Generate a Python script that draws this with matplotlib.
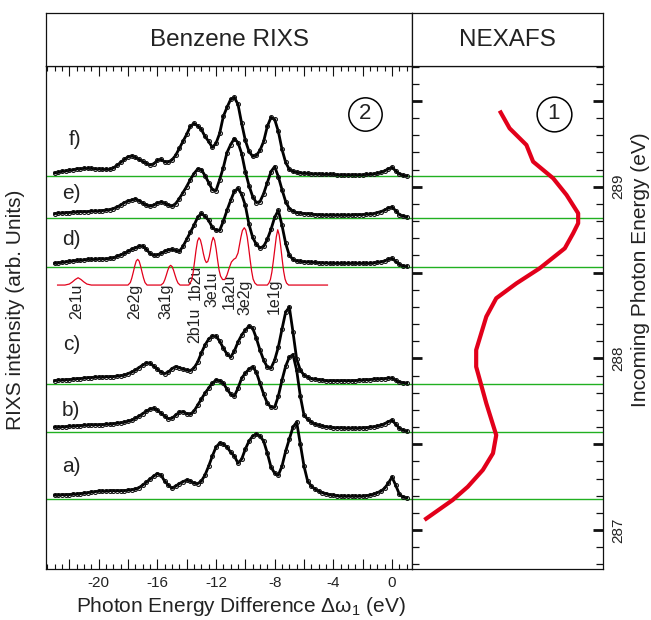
import numpy as np
import matplotlib
matplotlib.use("Agg")
import matplotlib.pyplot as plt
from matplotlib.ticker import MultipleLocator, FuncFormatter

plt.rcParams['font.family'] = ['Liberation Sans', 'DejaVu Sans']
plt.rcParams['mathtext.fontset'] = 'custom'
plt.rcParams['mathtext.rm'] = 'Liberation Sans'
plt.rcParams['mathtext.it'] = 'Liberation Sans'
plt.rcParams['axes.unicode_minus'] = False

# ---------------- data ----------------
# energy-loss grid (eV), 0.25 eV steps from -23 to +1
loss = np.arange(-23.0, 1.001, 0.25)

spec_f = [3.5, 4, 5, 5.5,  6, 6.5, 7.5, 7.5,  8, 8, 8, 7.5,  7.5, 7, 7, 7,
          8.5, 11, 14, 17,  19.5, 20.5, 19, 17,  15, 13, 11.5, 12.5,  16, 17, 14.5, 14.5,
          16.5, 21, 28, 35,  42, 50, 53, 50.5,  47, 40, 35, 29,  33, 43, 60, 69,
          77, 79, 72, 53,  36, 25, 20, 21,  26, 35, 50, 59,  57, 45, 27, 14,
          7, 5, 4, 3.5,  3, 3, 2.5, 2.5,  2.5, 2, 2, 2,  2, 1.5, 1.5, 1.5,
          1.5, 1.5, 1.5, 1.5,  1.5, 2, 2, 2.5,  3, 4, 5.5, 7.5,  9, 5.5, 2.5, 1,  0.5]
spec_e = [4, 4.5, 4.5, 5,  5, 5.5, 5.5, 6,  6, 6, 6.5, 6.5,  6.5, 7, 7.5, 8,
          9, 10.5, 12.5, 15,  16.5, 17.5, 18.5, 17,  14.5, 12.5, 11.5, 12.5,  14.5, 15.5, 14.5, 12.5,
          11.5, 14, 19, 25,  31, 38, 44, 48.5,  48, 42, 35, 28,  27, 38, 50, 65,
          73, 79, 75, 64,  46, 32, 21, 15,  16, 24, 35, 46,  51, 41, 28, 16,
          9, 6.5, 5, 4.5,  4, 4, 3.5, 3,  3, 2.5, 2.5, 2.5,  2.5, 2.5, 2.5, 2.5,
          2.5, 2.5, 3, 3,  3, 3.5, 3.5, 4,  5, 6, 7.5, 9.5,  10.5, 7, 3, 1.5,  0.7]
spec_d = [4, 4.5, 5, 5.5,  6, 6.5, 7, 7,  7.5, 8, 8, 8,  8.5, 8.5, 8.5, 9,
          9.5, 11, 12.5, 14,  16, 18, 19.5, 21,  21.5, 18, 14, 12,  12.5, 14, 16, 17.5,
          18, 17, 16, 21,  28, 35, 42, 50,  54, 51, 47, 40,  37, 37, 46, 57,
          67, 76, 79, 73,  62, 43, 30, 23,  19.5, 21, 28, 38,  50, 57, 42, 24,
          12, 8, 6.5, 6,  5.5, 5.5, 5, 5,  4.5, 4.5, 4.5, 4,  4, 4, 4, 4,
          4, 4, 4, 4,  4, 4, 4, 4.5,  5, 5.5, 6.5, 8,  9, 6, 3, 1.5,  1]
spec_c = [3.5, 4, 4, 4.5,  4.5, 5, 5.5, 5.5,  6, 6.5, 6.5, 7,  7, 7, 7.5, 7.5,
          7.5, 8, 8.5, 9,  10.5, 12, 14, 16.5,  19, 21, 21, 18,  15, 12, 10.5, 12,
          15.5, 17.5, 16.5, 15,  14, 13.5, 16, 22,  31, 39, 45, 48,  48, 43, 36, 30,
          27, 33, 42, 49,  54, 58, 56, 46,  34, 24, 17, 16,  24, 37, 55, 72,
          77, 52, 25, 14,  9, 7, 5.5, 5,  4.5, 4, 3.5, 3.5,  3.5, 3.5, 3.5, 3.5,
          3.5, 3.5, 3.5, 4,  4, 4.5, 4.5, 5,  5, 5.5, 5.5, 6,  6, 4, 2, 1.5,  1]
spec_b = [5, 5, 5.5, 5.5,  6, 6, 6.5, 6.5,  7, 7, 7.5, 7.5,  7.5, 7.5, 8, 8,
          8.5, 9, 9.5, 10,  11, 12, 14, 16,  18.5, 21, 23, 24,  22, 19, 16, 13.5,
          14, 17, 20, 20.5,  18.5, 18, 21, 27,  33, 39, 44, 49,  52, 51.5, 49, 43,
          38, 36, 44, 54,  59, 63, 65.5, 60,  49, 38, 29, 25,  25, 36, 52, 66,
          75, 77.5, 62, 36,  17, 13, 10, 8,  7, 6, 5.5, 5,  4.5, 4.5, 4.5, 4,
          4, 4, 4, 4,  4.5, 4.5, 5, 5.5,  6, 7, 8.5, 10.5,  12, 8, 4, 2,  1]
spec_a = [4, 4, 4.5, 4.5,  4.5, 5, 5, 5.5,  6, 6.5, 7, 7.5,  8, 8, 8, 8.5,
          8.5, 8.5, 8.5, 8.5,  9, 9.5, 10, 11.5,  14, 17, 20, 23,  25.5, 24, 18, 14,
          11, 13, 15.5, 17.5,  19, 18, 16, 15.5,  18, 24, 33, 43,  52, 56, 55, 52,
          47, 43, 36, 40,  50, 58, 63, 65,  63, 58, 46, 32,  26, 24, 33, 48,
          60, 72, 77, 55,  33, 18, 13, 10,  8, 6.5, 5.5, 4.5,  4, 3.5, 3, 3,
          3, 3, 3, 3,  3, 3.5, 4, 5,  6.5, 8, 11, 16,  22, 14, 5, 2,  1.5]

spectra = [spec_a, spec_b, spec_c, spec_d, spec_e, spec_f]
spectrum_names = ['a)', 'b)', 'c)', 'd)', 'e)', 'f)']
excitation_energy = [287.18, 287.57, 287.85, 288.53, 288.82, 289.06]   # eV

# calculated (broadened) spectrum, drawn below d)
theory_loss = [-22.8, -22.3, -22.0, -21.8, -21.6, -21.4, -21.2, -21.0, -20.8, -20.5,
               -18.0, -17.84, -17.74, -17.64, -17.54, -17.44, -17.34, -17.24, -17.14, -17.04,
               -16.94, -16.84, -16.7,
               -15.75, -15.59, -15.49, -15.39, -15.29, -15.19, -15.09, -14.99, -14.89, -14.79,
               -14.69, -14.59, -14.45,
               -13.85, -13.66, -13.56, -13.46, -13.36, -13.26, -13.16, -13.06, -12.96, -12.86,
               -12.76, -12.66, -12.56, -12.46, -12.39, -12.29, -12.19, -12.09, -11.99, -11.89,
               -11.79, -11.69, -11.55, -11.4, -11.25, -11.1, -10.95, -10.79, -10.65, -10.5,
               -10.4, -10.3, -10.2, -10.07, -9.97, -9.87, -9.77, -9.67, -9.57, -9.47,
               -9.35, -9.2,
               -8.5, -8.39, -8.29, -8.19, -8.09, -7.99, -7.89, -7.79, -7.69, -7.59,
               -7.49, -7.39, -7.29, -7.19, -7.05, -4.4]
theory_int = [0, 0, 1, 3, 5.5, 7.3, 5.5, 3, 1, 0,
              0, 2.5, 7, 12.8, 19, 24, 25.7, 24, 19, 12.8,
              7, 2.5, 0,
              0, 2, 5.3, 9.8, 14.6, 18.4, 19.7, 18.4, 14.6, 9.8,
              5.3, 2, 0,
              0, 4.7, 12.5, 23.5, 35, 44, 47.3, 45, 39, 31.5,
              25.5, 22.5, 23.5, 28.5, 34, 43, 47.7, 44.5, 36, 25,
              15, 9, 5.5, 5.5, 10, 17, 23, 25.7, 27, 32,
              40, 48, 54.5, 57.3, 55, 48, 37, 25, 14, 6,
              2, 0,
              0, 2, 5.5, 13, 24, 36, 48, 55.3, 50, 39,
              26, 14, 6, 2, 0, 0]
orbitals = ['2e1u', '2e2g', '3a1g', '1b2u', '2b1u', '3e1u', '1a2u', '3e2g', '1e1g']
orbital_loss = [-21.48, -17.52, -15.41, -13.43, -13.43, -12.27, -11.11, -10.02, -8.05]

# NEXAFS
nexafs_energy = [289.443, 289.340, 289.243, 289.146, 289.049, 288.952, 288.845, 288.787,
                 288.729, 288.641, 288.525, 288.437, 288.350, 288.243, 288.049, 287.951,
                 287.738, 287.553, 287.447, 287.350, 287.252, 287.175, 287.059]
nexafs_int = [45.9, 51.1, 59.9, 63.4, 73.9, 80.9, 87.0, 87.0,
              84.4, 80.0, 66.9, 54.7, 44.1, 38.9, 33.6, 33.6,
              38.9, 44.1, 42.4, 37.1, 29.2, 21.3, 6.5]

# ---------------- layout / style ----------------
W, H = 651, 620
SCALE = 1 / 171.65          # arb. intensity units -> axis units
THEORY_BASE = 288.427
orbital_label_y = [288.334, 288.334, 288.331, 288.442, 288.191, 288.404, 288.389, 288.354, 288.360]
name_pos_x = [-22.52, -22.52, -22.41, -22.52, -22.52, -22.07]
name_pos_y = [287.369, 287.695, 288.078, 288.695, 288.962, 289.272]
YLIM = (286.773, 289.703)
XLIM = (-23.59, 1.364)
GREEN = '#21b021'
RED = '#e2001a'
TXT = '#222222'
LW_SPINE = 0.9


def fx(px):
    return px / W


def fy(py):
    return 1 - py / H


fig = plt.figure(figsize=(W / 100, H / 100), dpi=100)

axL = fig.add_axes([fx(46), fy(569), fx(412) - fx(46), fy(66) - fy(569)])
axR = fig.add_axes([fx(412), fy(569), fx(603) - fx(412), fy(66) - fy(569)])
axT1 = fig.add_axes([fx(46), fy(66), fx(412) - fx(46), fy(13) - fy(66)])
axT2 = fig.add_axes([fx(412), fy(66), fx(603) - fx(412), fy(13) - fy(66)])

for a in (axL, axR, axT1, axT2):
    for s in a.spines.values():
        s.set_linewidth(LW_SPINE)
        s.set_color('#111111')

for a, t in ((axT1, 'Benzene RIXS'), (axT2, 'NEXAFS')):
    a.set_xticks([])
    a.set_yticks([])
    a.text(0.5, 0.5, t, ha='center', va='center', fontsize=17.5, color=TXT,
           transform=a.transAxes)

# ---- left panel ----
axL.set_xlim(*XLIM)
axL.set_ylim(*YLIM)
for e0 in excitation_energy:
    axL.axhline(e0, color=GREEN, lw=1.0, zorder=1)
    axR.axhline(e0, color=GREEN, lw=1.0, zorder=1)

for e0, sp in zip(excitation_energy, spectra):
    yy = e0 + np.asarray(sp) * SCALE
    axL.plot(loss, yy, color='black', lw=2.0, zorder=3, solid_joinstyle='round')
    axL.plot(loss, yy, ls='none', marker='o', ms=2.8, mfc='none', mec='#111111',
             mew=0.8, zorder=4)

for name, x, y in zip(spectrum_names, name_pos_x, name_pos_y):
    axL.text(x, y, name, ha='left', va='center', fontsize=15, color=TXT)

axL.plot(theory_loss, THEORY_BASE + np.asarray(theory_int) * SCALE,
         color=RED, lw=0.9, zorder=5)
for lab, x, y in zip(orbitals, orbital_loss, orbital_label_y):
    axL.text(x, y, lab, rotation=90, ha='center', va='center', fontsize=11.5, color=TXT)

axL.plot([-1.84], [289.426], marker='o', ms=24, mfc='none', mec='black', mew=1.1)
axL.text(-1.84, 289.426, '2', ha='center', va='center', fontsize=16, color=TXT)

axL.xaxis.set_major_locator(MultipleLocator(2))
axL.xaxis.set_minor_locator(MultipleLocator(0.5))
axL.xaxis.set_major_formatter(FuncFormatter(
    lambda v, p: '%d' % round(v) if abs(v / 4 - round(v / 4)) < 1e-6 else ''))
axL.tick_params(axis='x', which='major', direction='in', top=True, bottom=True,
                length=7, width=0.8, labelsize=11, pad=5, colors='#111111',
                labelcolor=TXT)
axL.tick_params(axis='x', which='minor', direction='in', top=True, bottom=True,
                length=3.5, width=0.8, colors='#111111')
axL.tick_params(axis='y', which='both', left=False, right=False, labelleft=False)

# ---- right panel ----
axR.set_xlim(0, 100)
axR.set_ylim(*YLIM)
axR.plot(nexafs_int, nexafs_energy, color=RED, lw=3, solid_capstyle='butt', zorder=4)
axR.plot([74.2], [289.424], marker='o', ms=25, mfc='none', mec='black', mew=1.1)
axR.text(74.2, 289.424, '1', ha='center', va='center', fontsize=16, color=TXT)

axR.yaxis.set_major_locator(MultipleLocator(0.5))
axR.yaxis.set_minor_locator(MultipleLocator(0.1))
axR.yaxis.set_major_formatter(FuncFormatter(
    lambda v, p: '%d' % round(v) if abs(v - round(v)) < 1e-6 else ''))
axR.tick_params(axis='y', which='major', direction='in', left=True, right=True,
                labelleft=False, labelright=True, length=7, width=2,
                labelrotation=90, labelsize=11, pad=6, colors='#111111',
                labelcolor=TXT)
axR.tick_params(axis='y', which='minor', direction='in', left=True, right=True,
                length=5, width=0.9, colors='#111111')
axR.tick_params(axis='x', which='both', bottom=False, top=False, labelbottom=False)
for t in axR.get_yticklabels():
    t.set_va('center')

# ---- axis labels ----
fig.text(fx(241), fy(606), r'Photon Energy Difference $\Delta\omega_1$ (eV)',
         ha='center', va='center', fontsize=15, color=TXT)
fig.text(fx(16), fy(310), 'RIXS intensity (arb. Units)', rotation=90,
         ha='center', va='center', fontsize=15, color=TXT)
fig.text(fx(641), fy(270), 'Incoming Photon Energy (eV)', rotation=90,
         ha='center', va='center', fontsize=15, color=TXT)

fig.savefig('out.png', dpi=100)
